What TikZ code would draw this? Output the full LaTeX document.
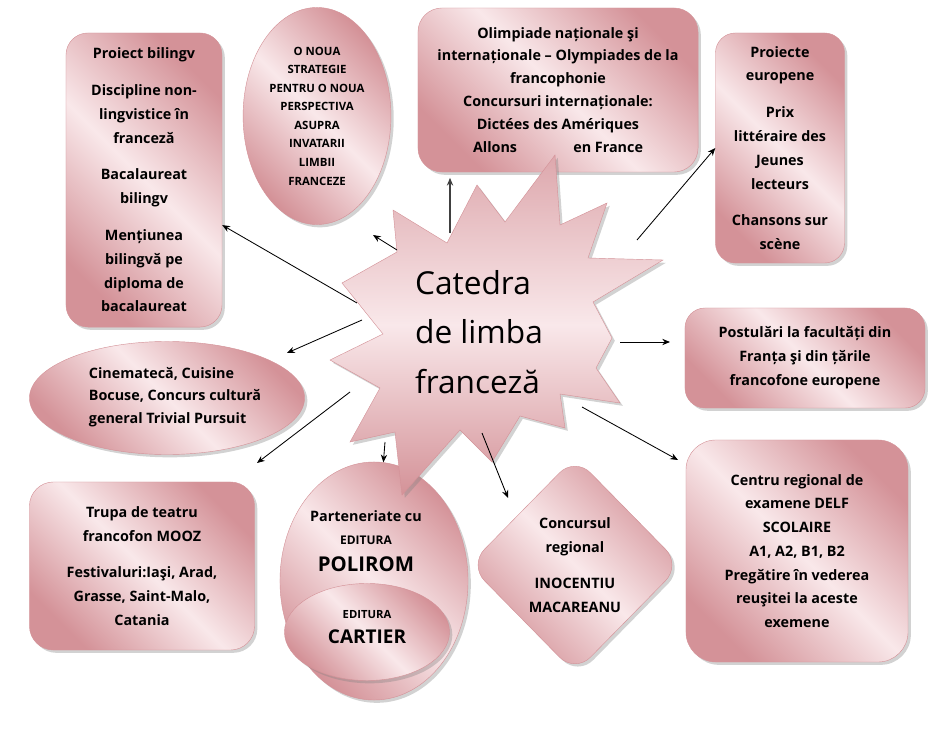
\documentclass[tikz,border=0pt]{standalone}
\usepackage{fontspec}
\setmainfont{Open Sans}
\usetikzlibrary{shapes.geometric,shadows,arrows.meta}
\definecolor{rosedark}{RGB}{212,146,152}
\definecolor{roselight}{RGB}{249,232,234}
\tikzset{
  roz/.style={top color=rosedark, bottom color=rosedark, middle color=roselight,
    shading angle=-45, draw=rosedark, line width=0.3pt,
    drop shadow={shadow xshift=2pt, shadow yshift=-2pt, fill=black!50, opacity=0.35}},
  stea/.style={roz, top color=rosedark!75!roselight, bottom color=rosedark, middle color=roselight},
  casuta/.style={roz, rectangle, align=center, font=\bfseries\fontsize{10.2}{17}\selectfont},
  oval/.style={roz, ellipse, align=center, font=\bfseries\fontsize{10.2}{16}\selectfont},
  sageata/.style={-{Stealth[length=5.5pt,width=4.5pt]}, line width=0.6pt},
}
\begin{document}
\begin{tikzpicture}[x=0.025cm, y=-0.025cm]
 \fill[white] (0,0) rectangle (942,729);
 \useasboundingbox (0,0) rectangle (942,729);

 \node[casuta, rounded corners=0.55cm, minimum width=3.9cm, minimum height=7.35cm] (proiect) at (144,180)
   {Proiect bilingv\\[9pt] Discipline non-\\lingvistice în\\franceză\\[9pt] Bacalaureat\\bilingv\\[9pt] Mențiunea\\bilingvă pe\\diploma de\\bacalaureat};
 \node[oval, minimum width=3.375cm, minimum height=5.425cm, font=\bfseries\fontsize{8.1}{13.2}\selectfont] (strategie) at (317,116)
   {O NOUA\\STRATEGIE\\PENTRU O NOUA\\PERSPECTIVA\\ASUPRA\\INVATARII\\LIMBII\\FRANCEZE};
 \node[casuta, rounded corners=0.6cm, minimum width=7cm, minimum height=4.1cm, font=\bfseries\fontsize{10.2}{16.3}\selectfont] (olimpiade) at (558,90)
   {Olimpiade naționale şi\\internaționale – Olympiades de la\\francophonie\\Concursuri internaționale:\\Dictées des Amériques\\Allons\hspace{40pt}en France};
 \node[casuta, rounded corners=0.5cm, minimum width=3.225cm, minimum height=5.75cm] (europene) at (780,148)
   {Proiecte\\europene\\[9pt] Prix\\littéraire des\\Jeunes\\lecteurs\\[9pt] Chansons sur\\scène};
 \node[casuta, rounded corners=0.5cm, minimum width=6cm, minimum height=2.5cm] (postulari) at (805,358)
   {Postulări la facultăți din\\Franța şi din țările\\francofone europene};
 \node[oval, minimum width=6.875cm, minimum height=2.825cm] (cinemateca) at (167,398) {};
 \node[align=left, font=\bfseries\fontsize{10.2}{16}\selectfont] (cinetext) at (175,397)
   {Cinematecă, Cuisine\\Bocuse, Concurs cultură\\general Trivial Pursuit};
 \node[casuta, rounded corners=0.6cm, minimum width=5.625cm, minimum height=4.2cm] (trupa) at (142,566)
   {Trupa de teatru\\francofon MOOZ\\[9pt] Festivaluri:Iaşi, Arad,\\Grasse, Saint-Malo,\\Catania};
 \node[oval, minimum width=4.7cm, minimum height=5.95cm] (parteneriate) at (374,581) {};
 \node[align=center, font=\bfseries\fontsize{10.2}{16.3}\selectfont] (polirom) at (366,541)
   {Parteneriate cu\\ {\fontsize{8.5}{16.3}\selectfont EDITURA}\\[3pt] {\fontsize{14.5}{16.3}\selectfont POLIROM}};
 \node[oval, minimum width=4.125cm, minimum height=2.425cm] (cartier) at (367,632) {};
 \node[align=center, font=\bfseries\fontsize{8}{18.4}\selectfont] (cartiertext) at (367,627)
   {EDITURA\\ {\fontsize{13.5}{18.4}\selectfont CARTIER}};
 \node[roz, diamond, rounded corners=0.55cm, minimum width=5.3cm, minimum height=5.4cm, align=center,
   font=\bfseries\fontsize{10.2}{17}\selectfont] (concurs) at (575,565)
   {Concursul\\regional\\[9pt] INOCENTIU\\MACAREANU};
 \node[casuta, rounded corners=0.75cm, minimum width=5.55cm, minimum height=5.55cm, font=\bfseries\fontsize{10.2}{16.9}\selectfont] (centru) at (797,551)
   {Centru regional de\\examene DELF\\SCOLAIRE\\A1, A2, B1, B2\\Pregătire în vederea\\reuşitei la aceste\\exemene};

 \path[stea] (555,155) -- (560,225) -- (607,203) -- (588,258) -- (663,260) -- (593,302)
   -- (612,338) -- (596,368) -- (620,403) -- (560,394) -- (565,428) -- (520,416)
   -- (492,462) -- (460,430) -- (402,495) -- (395,432) -- (350,442) -- (380,388)
   -- (330,360) -- (383,334) -- (342,283) -- (397,252) -- (393,210) -- (447,243)
   -- (477,185) -- (505,222) -- cycle;
 \node[font=\fontsize{22.5}{35}\selectfont, align=left] (catedra) at (479,332) {Catedra\\de limba\\franceză};

 \coordinate (sProiect) at (357,303);
 \coordinate (sStrat) at (397,250);
 \coordinate (sOlimp) at (450,233);
 \coordinate (sEurop) at (637,240);
 \coordinate (sPost) at (620,342);
 \coordinate (sCentru) at (582,407);
 \coordinate (sConc) at (482,433);
 \coordinate (sPart) at (385,442);
 \coordinate (sTrupa) at (350,392);
 \coordinate (sCine) at (362,320);
 \coordinate (pStrat) at (373,235);
 \coordinate (pPost) at (670,342);
 \coordinate (pCentru) at (678,460);
 \coordinate (pConc) at (508,498);
 \coordinate (pTrupa) at (257,463);
 \coordinate (pCine) at (287,353);

 \draw[sageata] (sProiect) to (proiect);
 \draw[sageata] (sStrat) to (pStrat);
 \draw[sageata, line width=1pt, black!75] (sOlimp) to ([yshift=-4pt]sOlimp |- olimpiade.south);
 \draw[sageata] (sEurop) to (europene.west);
 \draw[sageata] (sPost) to (pPost);
 \draw[sageata] (sCentru) to (pCentru);
 \draw[sageata] (sConc) to (pConc);
 \draw[sageata] (sPart) to (parteneriate);
 \draw[sageata] (sTrupa) to (pTrupa);
 \draw[sageata] (sCine) to (pCine);
\end{tikzpicture}
\end{document}
